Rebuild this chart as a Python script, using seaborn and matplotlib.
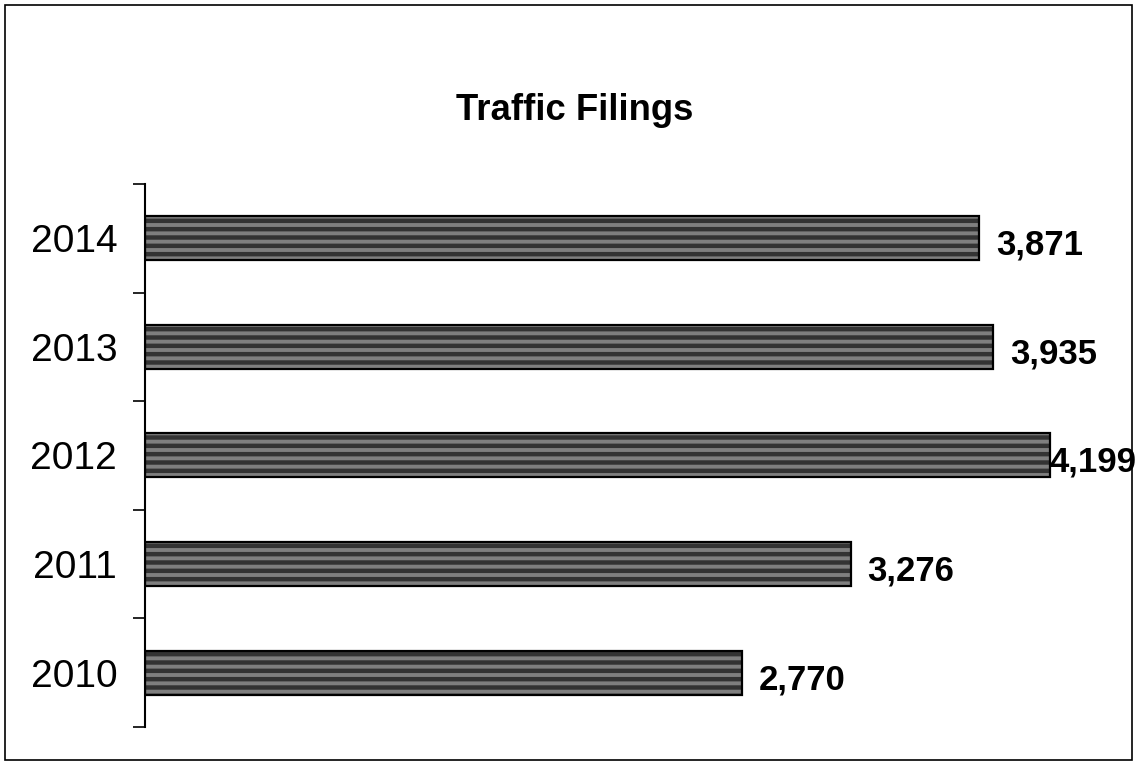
import matplotlib
matplotlib.use("Agg")
import matplotlib.pyplot as plt
import seaborn as sns
from matplotlib.patches import Rectangle

# data
years = ["2014", "2013", "2012", "2011", "2010"]
filings = [3871, 3935, 4199, 3276, 2770]
labels = ["3,871", "3,935", "4,199", "3,276", "2,770"]

sns.set_style("white")
plt.rcParams['font.family'] = ['Liberation Sans', 'DejaVu Sans']
plt.rcParams['text.color'] = 'black'
plt.rcParams['ytick.color'] = 'black'
plt.rcParams['ytick.labelcolor'] = 'black'
plt.rcParams['hatch.linewidth'] = 3.2

fig = plt.figure(figsize=(11.37, 7.65), dpi=100)
ax = fig.add_axes([0.1275, 0.0497, 0.853, 0.7098])

sns.barplot(x=filings, y=years, orient="h", color="#7f7f7f", width=0.405,
            edgecolor="black", linewidth=1.6, hatch="--", ax=ax)
for p in ax.patches:
    if hasattr(p, "set_hatchcolor"):
        p.set_hatchcolor("#333333")
    else:
        p._hatch_color = matplotlib.colors.to_rgba("#333333")

ax.set_xlim(0, 4500)
ax.set_ylim(4.5, -0.5)

# axis styling
for s in ["top", "right", "bottom"]:
    ax.spines[s].set_visible(False)
ax.spines["left"].set_color("black")
ax.spines["left"].set_linewidth(1.5)
ax.set_xticks([])
ax.set_yticks(range(len(years)))
ax.set_yticklabels(years, fontsize=28, color="black")
ax.set_yticks([i - 0.5 for i in range(len(years) + 1)], minor=True)
ax.tick_params(axis="y", which="major", length=0, pad=20)
ax.tick_params(axis="y", which="minor", direction="out", length=8.5, width=1.2, color="black", left=True)
ax.set_xlabel("")
ax.set_ylabel("")

# value labels, pushed back inside the figure when they run off
texts = []
for i, (v, lab) in enumerate(zip(filings, labels)):
    t = ax.annotate(lab, xy=(v, i), xytext=(12, -5), textcoords="offset points",
                    ha="left", va="center", fontsize=25, fontweight="bold", color="black")
    texts.append(t)
fig.canvas.draw()
r = fig.canvas.get_renderer()
for t in texts:
    bb = t.get_window_extent(r)
    if bb.x1 > fig.bbox.width - 1:
        shift = (bb.x1 - fig.bbox.width + 1) * 72 / fig.dpi
        x0, y0 = t.xyann
        t.xyann = (x0 - shift, y0)

fig.text(0.5057, 0.856, "Traffic Filings", ha="center", va="center",
         fontsize=26.3, fontweight="bold", color="black")

fig.patches.append(Rectangle((0.004, 0.007), 0.992, 0.987, transform=fig.transFigure,
                             fill=False, edgecolor="black", linewidth=1.2))

fig.savefig("out.png", dpi=100)
